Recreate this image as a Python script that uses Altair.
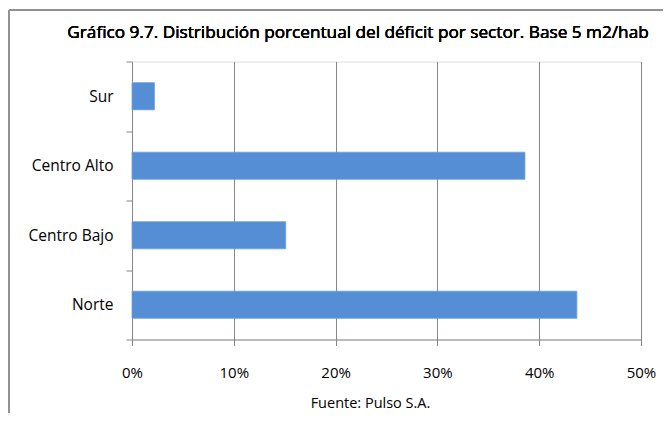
import altair as alt
import pandas as pd

sectors = ["Sur", "Centro Alto", "Centro Bajo", "Norte"]
values = [0.022, 0.386, 0.151, 0.437]
title_text = "Gráfico 9.7. Distribución porcentual del déficit por sector. Base 5 m2/hab"
source_text = "Fuente: Pulso S.A."

df = pd.DataFrame({"sector": sectors, "value": values})

FONT = "Open Sans"
GRAY = "#878787"

W, H = 509, 278

bars = alt.Chart(df).mark_bar(color="#558ED5", stroke="#6C9EDC", strokeWidth=0.8,
                              height={"band": 0.39}).encode(
    x=alt.X("value:Q",
            scale=alt.Scale(domain=[0, 0.5], nice=False),
            axis=alt.Axis(format="%", values=[0, 0.1, 0.2, 0.3, 0.4, 0.5],
                          title=source_text, titleX=238, titleY=64,
                          titleAnchor="start", titleAlign="center", titleBaseline="middle",
                          titleFontWeight="normal", titleFontSize=14.5, titleFont=FONT,
                          titleColor="black",
                          labelFont=FONT, labelFontSize=15, labelColor="black",
                          labelPadding=20, labelFlush=False,
                          domainColor=GRAY, tickColor=GRAY, tickSize=6,
                          grid=True, gridColor=GRAY, gridWidth=1)),
    y=alt.Y("sector:N", sort=sectors,
            scale=alt.Scale(paddingInner=0, paddingOuter=0),
            axis=alt.Axis(title=None, tickBand="extent",
                          labelFont=FONT, labelFontSize=15.5, labelColor="black",
                          labelPadding=13,
                          domainColor=GRAY, tickColor=GRAY, tickSize=6, grid=False)),
)

frame = alt.Chart(df).mark_rect(fill="transparent", stroke="#8a8a8a", strokeWidth=1, clip=False).encode(
    x=alt.value(-123), x2=alt.value(600), y=alt.value(-51.5), y2=alt.value(400)
)

title = alt.Chart(df).mark_text(text=title_text, font=FONT, fontSize=17.2, fontWeight=400,
                                color="black", align="center", baseline="middle").encode(
    x=alt.value(226), y=alt.value(-28.5)
)

chart = alt.layer(frame, title, bars).properties(
    width=W, height=H,
    autosize=alt.AutoSizeParams(type="none"),
    padding={"left": 124, "top": 53.5, "right": 22, "bottom": 73},
).configure_view(stroke=None).configure(background="white")

chart.save("out.html", embed_options={"renderer": "svg", "actions": False})
